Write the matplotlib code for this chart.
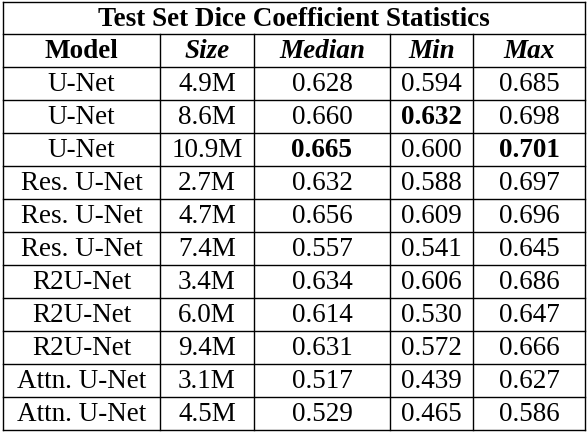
import matplotlib
matplotlib.use("Agg")
import matplotlib.pyplot as plt
from matplotlib.lines import Line2D

title = "Test Set Dice Coefficient Statistics"
headers = ["Model", "Size", "Median", "Min", "Max"]
models = ["U-Net", "U-Net", "U-Net", "Res. U-Net", "Res. U-Net", "Res. U-Net",
          "R2U-Net", "R2U-Net", "R2U-Net", "Attn. U-Net", "Attn. U-Net"]
sizes = ["4.9M", "8.6M", "10.9M", "2.7M", "4.7M", "7.4M", "3.4M", "6.0M", "9.4M", "3.1M", "4.5M"]
medians = ["0.628", "0.660", "0.665", "0.632", "0.656", "0.557", "0.634", "0.614", "0.631", "0.517", "0.529"]
mins = ["0.594", "0.632", "0.600", "0.588", "0.609", "0.541", "0.606", "0.530", "0.572", "0.439", "0.465"]
maxs = ["0.685", "0.698", "0.701", "0.697", "0.696", "0.645", "0.686", "0.647", "0.666", "0.627", "0.586"]
bold_cells = {(1, 3), (2, 2), (2, 4)}

W, H = 588, 432
fig = plt.figure(figsize=(W / 100, H / 100), dpi=100)
ax = fig.add_axes([0, 0, 1, 1])
ax.set_xlim(0, W)
ax.set_ylim(H, 0)
ax.axis("off")

xs = [3, 160, 254, 390, 473, 585]
y0, y1 = 2, 34
rh = (430 - y1) / 12.0
ys = [y1 + i * rh for i in range(13)]
lw = 1.0
font = "Liberation Serif"
fs = 19.5
off = 7.5

def hl(y, x0=xs[0], x1=xs[-1]):
    ax.add_line(Line2D([x0, x1], [y, y], color="black", lw=lw))

def vl(x, a, b):
    ax.add_line(Line2D([x, x], [a, b], color="black", lw=lw))

hl(y0)
for y in ys:
    hl(y)
vl(xs[0], y0, ys[-1]); vl(xs[-1], y0, ys[-1])
for x in xs[1:-1]:
    vl(x, y1, ys[-1])

ax.text((xs[0] + xs[-1]) / 2, (y0 + y1) / 2 + off, title, ha="center", va="baseline",
        family=font, fontsize=fs, fontweight="bold")
for j, h in enumerate(headers):
    ax.text((xs[j] + xs[j + 1]) / 2, (ys[0] + ys[1]) / 2 + off, h, ha="center", va="baseline",
            family=font, fontsize=fs, fontweight="bold", style="normal" if j == 0 else "italic")
for i in range(len(models)):
    row = [models[i], sizes[i], medians[i], mins[i], maxs[i]]
    yc = (ys[i + 1] + ys[i + 2]) / 2 + off
    for j, v in enumerate(row):
        ax.text((xs[j] + xs[j + 1]) / 2, yc, v, ha="center", va="baseline", family=font,
                fontsize=fs, fontweight="bold" if (i, j) in bold_cells else "normal")

fig.savefig("out.png", dpi=100)
